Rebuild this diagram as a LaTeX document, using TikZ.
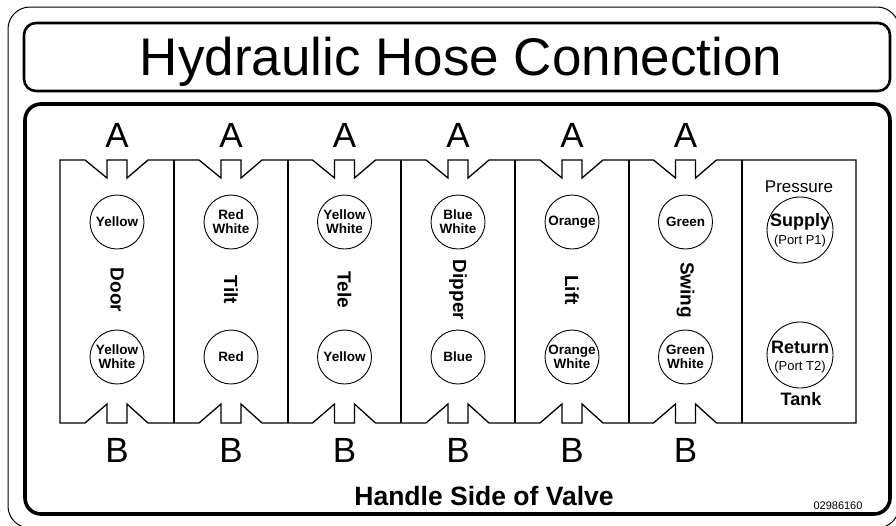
\documentclass[tikz,border=0pt]{standalone}
\usepackage{fontspec}
\setmainfont{Liberation Sans}
\begin{document}
\begin{tikzpicture}[x=1pt,y=-1pt,
  outerframe/.style={draw, line width=1pt, rounded corners=22pt},
  titlebox/.style={draw, line width=2.6pt, rounded corners=12pt},
  mainbox/.style={draw, line width=3.6pt, rounded corners=16pt},
  panel/.style={draw, line width=1.3pt, line join=miter},
  hole/.style={draw, circle, line width=0.9pt, minimum size=54pt, inner sep=0pt},
  bighole/.style={draw, circle, line width=0.9pt, minimum size=66pt, inner sep=0pt},
  holetext/.style={font=\fontsize{13.5}{14}\selectfont\bfseries, align=center, inner sep=0pt},
  porttext/.style={font=\fontsize{18}{18}\selectfont\bfseries, align=center, inner sep=0pt},
  vlabel/.style={font=\fontsize{19}{19}\selectfont\bfseries, rotate=-90, inner sep=0pt},
  portletter/.style={font=\fontsize{35}{35}\selectfont, anchor=base, inner sep=0pt},
  smalltext/.style={inner sep=0pt, anchor=base}]
\useasboundingbox (0,0) rectangle (896,525);
% frames
\draw[outerframe] (8,7) rectangle (899,528);
\draw[titlebox] (24,23) rectangle (890,91);
\draw[mainbox] (25,104) rectangle (890,514);
\node[smalltext, font=\fontsize{53}{53}\selectfont] (title) at (461,75) {Hydraulic Hose Connection};
% panel outline with notches
\draw[panel] (60,160)
  \foreach \c in {117,231,344.5,458,572,685.5} { -- (\c-32,160) -- (\c-10,178) -- (\c-10,160) -- (\c+10,160) -- (\c+10,178) -- (\c+31,160) }
  -- (856,160) -- (856,423)
  \foreach \c in {685.5,572,458,344.5,231,117} { -- (\c+31,423) -- (\c+10,404) -- (\c+10,423) -- (\c-10,423) -- (\c-10,404) -- (\c-32,423) }
  -- (60,423) -- cycle;
\foreach \x in {174,288,401,515,629,742} \draw[panel] (\x,160) -- (\x,423);
% A and B labels
\foreach \c/\n in {117/1,231/2,344.5/3,458/4,572/5,685.5/6} {
  \node[portletter] (a\n) at (\c,147) {A};
  \node[portletter] (b\n) at (\c,462) {B};
}
% column 1 Door
\node[hole] (t1) at (117,222) {};
\node[holetext] at (t1) {Yellow};
\node[vlabel] (l1) at (117,290) {Door};
\node[hole] (u1) at (117,357) {};
\node[holetext] at (u1) {Yellow\\White};
% column 2 Tilt
\node[hole] (t2) at (231,222) {};
\node[holetext] at (t2) {Red\\White};
\node[vlabel] (l2) at (231,290) {Tilt};
\node[hole] (u2) at (231,357) {};
\node[holetext] at (u2) {Red};
% column 3 Tele
\node[hole] (t3) at (344.5,222) {};
\node[holetext] at (t3) {Yellow\\White};
\node[vlabel] (l3) at (344.5,290) {Tele};
\node[hole] (u3) at (344.5,357) {};
\node[holetext] at (u3) {Yellow};
% column 4 Dipper
\node[hole] (t4) at (458,222) {};
\node[holetext] at (t4) {Blue\\White};
\node[vlabel] (l4) at (458,290) {Dipper};
\node[hole] (u4) at (458,357) {};
\node[holetext] at (u4) {Blue};
% column 5 Lift
\node[hole] (t5) at (572,222) {};
\node[holetext] at (t5) {Orange};
\node[vlabel] (l5) at (572,290) {Lift};
\node[hole] (u5) at (572,357) {};
\node[holetext] at (u5) {Orange\\White};
% column 6 Swing
\node[hole] (t6) at (685.5,222) {};
\node[holetext] at (t6) {Green};
\node[vlabel] (l6) at (685.5,290) {Swing};
\node[hole] (u6) at (685.5,357) {};
\node[holetext] at (u6) {Green\\White};
% column 7 pressure / tank
\node[smalltext, font=\fontsize{17}{17}\selectfont] (press) at (799,192) {Pressure};
\node[bighole] (sup) at (800,230) {};
\node[porttext] (suptxt) at (800,222) {Supply};
\node[inner sep=0pt, font=\fontsize{13}{13}\selectfont] (p1) at (800,241) {(Port P1)};
\node[bighole] (ret) at (800,355) {};
\node[porttext] (rettxt) at (800,347) {Return};
\node[inner sep=0pt, font=\fontsize{13}{13}\selectfont] (t2txt) at (800,367) {(Port T2)};
\node[smalltext, font=\fontsize{18}{18}\selectfont\bfseries] (tank) at (801,405) {Tank};
% bottom texts
\node[smalltext, font=\fontsize{26.5}{26.5}\selectfont\bfseries] (handle) at (484,505) {Handle Side of Valve};
\node[smalltext, font=\fontsize{11}{11}\selectfont] (code) at (838,509) {02986160};
\end{tikzpicture}
\end{document}
